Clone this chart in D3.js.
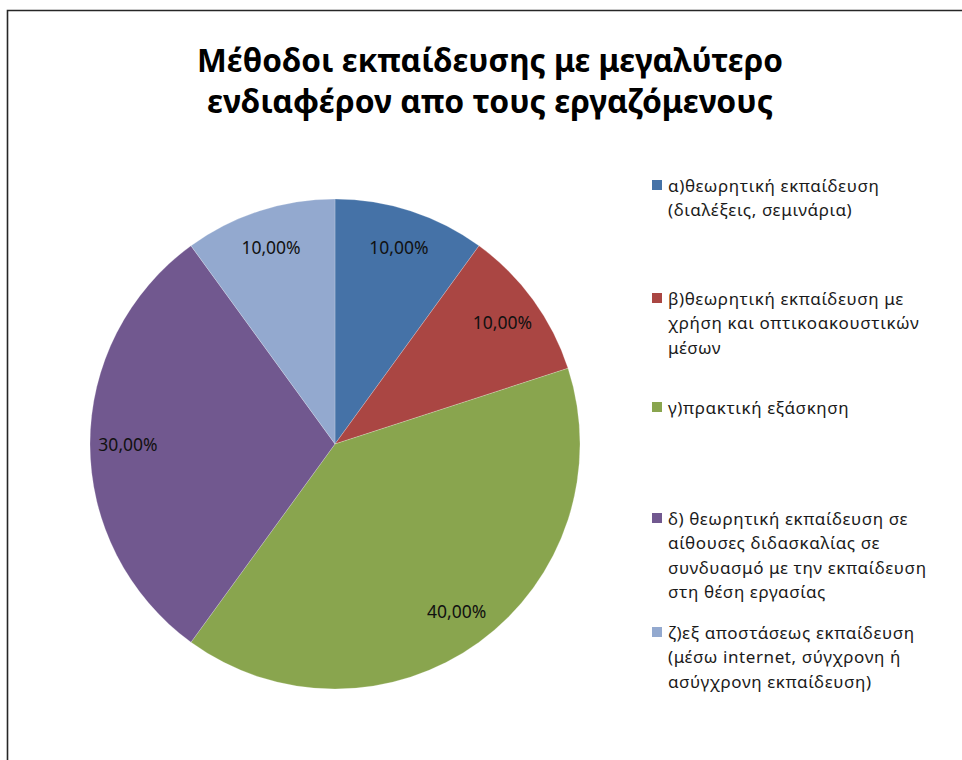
<!DOCTYPE html>
<html>
<head>
<meta charset="utf-8">
<script src="https://cdn.jsdelivr.net/npm/d3@7"></script>
<style>
  html, body { margin: 0; padding: 0; background: #fff; }
  svg { display: block; }
  text { font-family: "Noto Sans", "Open Sans", "DejaVu Sans", sans-serif; }
</style>
</head>
<body>
<svg id="chart" width="962" height="760"></svg>
<script>
// Survey: preferred training methods among employees (shares of responses)
const titleLines = [
  "Μέθοδοι εκπαίδευσης με μεγαλύτερο",
  "ενδιαφέρον απο τους εργαζόμενους"
];
const categories = [
  "α)θεωρητική εκπαίδευση (διαλέξεις, σεμινάρια)",
  "β)θεωρητική εκπαίδευση με χρήση και οπτικοακουστικών μέσων",
  "γ)πρακτική εξάσκηση",
  "δ) θεωρητική εκπαίδευση σε αίθουσες διδασκαλίας σε συνδυασμό με την εκπαίδευση στη θέση εργασίας",
  "ζ)εξ αποστάσεως εκπαίδευση (μέσω internet, σύγχρονη ή ασύγχρονη εκπαίδευση)"
];
// legend text broken into the lines it is shown on
const legendLines = [
  ["α)θεωρητική εκπαίδευση", "(διαλέξεις, σεμινάρια)"],
  ["β)θεωρητική εκπαίδευση με", "χρήση και οπτικοακουστικών", "μέσων"],
  ["γ)πρακτική εξάσκηση"],
  ["δ) θεωρητική εκπαίδευση σε", "αίθουσες διδασκαλίας σε", "συνδυασμό με την εκπαίδευση", "στη θέση εργασίας"],
  ["ζ)εξ αποστάσεως εκπαίδευση", "(μέσω internet, σύγχρονη ή", "ασύγχρονη εκπαίδευση)"]
];
const values = [10, 10, 40, 30, 10];
const colors = ["#4572A7", "#AA4643", "#89A54E", "#71588F", "#93A9CF"];

const svg = d3.select("#chart");

// chart area frame (top and left edges)
svg.append("path")
  .attr("d", "M7.5,760 L7.5,10.5 L962,10.5")
  .attr("fill", "none")
  .attr("stroke", "#262626")
  .attr("stroke-width", 1.6);

// title
const title = svg.append("g").attr("font-weight", "bold").attr("fill", "#000");
const titleY = [72, 113];
const titleWidth = [586, 566];
titleLines.forEach((line, i) => {
  title.append("text")
    .attr("x", 490).attr("y", titleY[i])
    .attr("text-anchor", "middle")
    .attr("font-size", 33)
    .attr("textLength", titleWidth[i])
    .attr("lengthAdjust", "spacingAndGlyphs")
    .text(line);
});

// pie
const cx = 335, cy = 444, radius = 245;
const pie = d3.pie().sort(null).value(d => d).startAngle(0).endAngle(2 * Math.PI);
const arcs = pie(values);
const arc = d3.arc().innerRadius(0).outerRadius(radius);
const labelArc = d3.arc().innerRadius(207).outerRadius(207);
const color = d3.scaleOrdinal().domain(d3.range(values.length)).range(colors);

const total = d3.sum(values);
const fmt = d3.formatLocale({ decimal: ",", thousands: ".", grouping: [3], currency: ["", "€"] }).format(".2%");

const g = svg.append("g").attr("transform", `translate(${cx},${cy})`);
g.selectAll("path.slice")
  .data(arcs)
  .join("path")
  .attr("class", "slice")
  .attr("d", arc)
  .attr("fill", (d, i) => color(i))
  .attr("stroke", "rgba(255,255,255,0.35)")
  .attr("stroke-width", 0.6);

g.selectAll("text.val")
  .data(arcs)
  .join("text")
  .attr("class", "val")
  .attr("transform", d => `translate(${labelArc.centroid(d)})`)
  .attr("text-anchor", "middle")
  .attr("dominant-baseline", "central")
  .attr("font-size", 17.5)
  .attr("fill", "#111")
  .text(d => fmt(d.value / total));

// legend
const legendTop = [185, 298, 407, 518, 632];
const lineStep = 24.5;
const legend = svg.append("g");
legendLines.forEach((lines, i) => {
  const item = legend.append("g").attr("transform", `translate(652,${legendTop[i]})`);
  item.append("rect")
    .attr("x", 0).attr("y", -5)
    .attr("width", 10).attr("height", 10)
    .attr("fill", color(i));
  lines.forEach((ln, j) => {
    item.append("text")
      .attr("x", 16).attr("y", j * lineStep)
      .attr("dominant-baseline", "central")
      .attr("font-size", 17)
      .attr("letter-spacing", 0.6)
      .attr("fill", "#1a1a1a")
      .text(ln);
  });
});
</script>
</body>
</html>
